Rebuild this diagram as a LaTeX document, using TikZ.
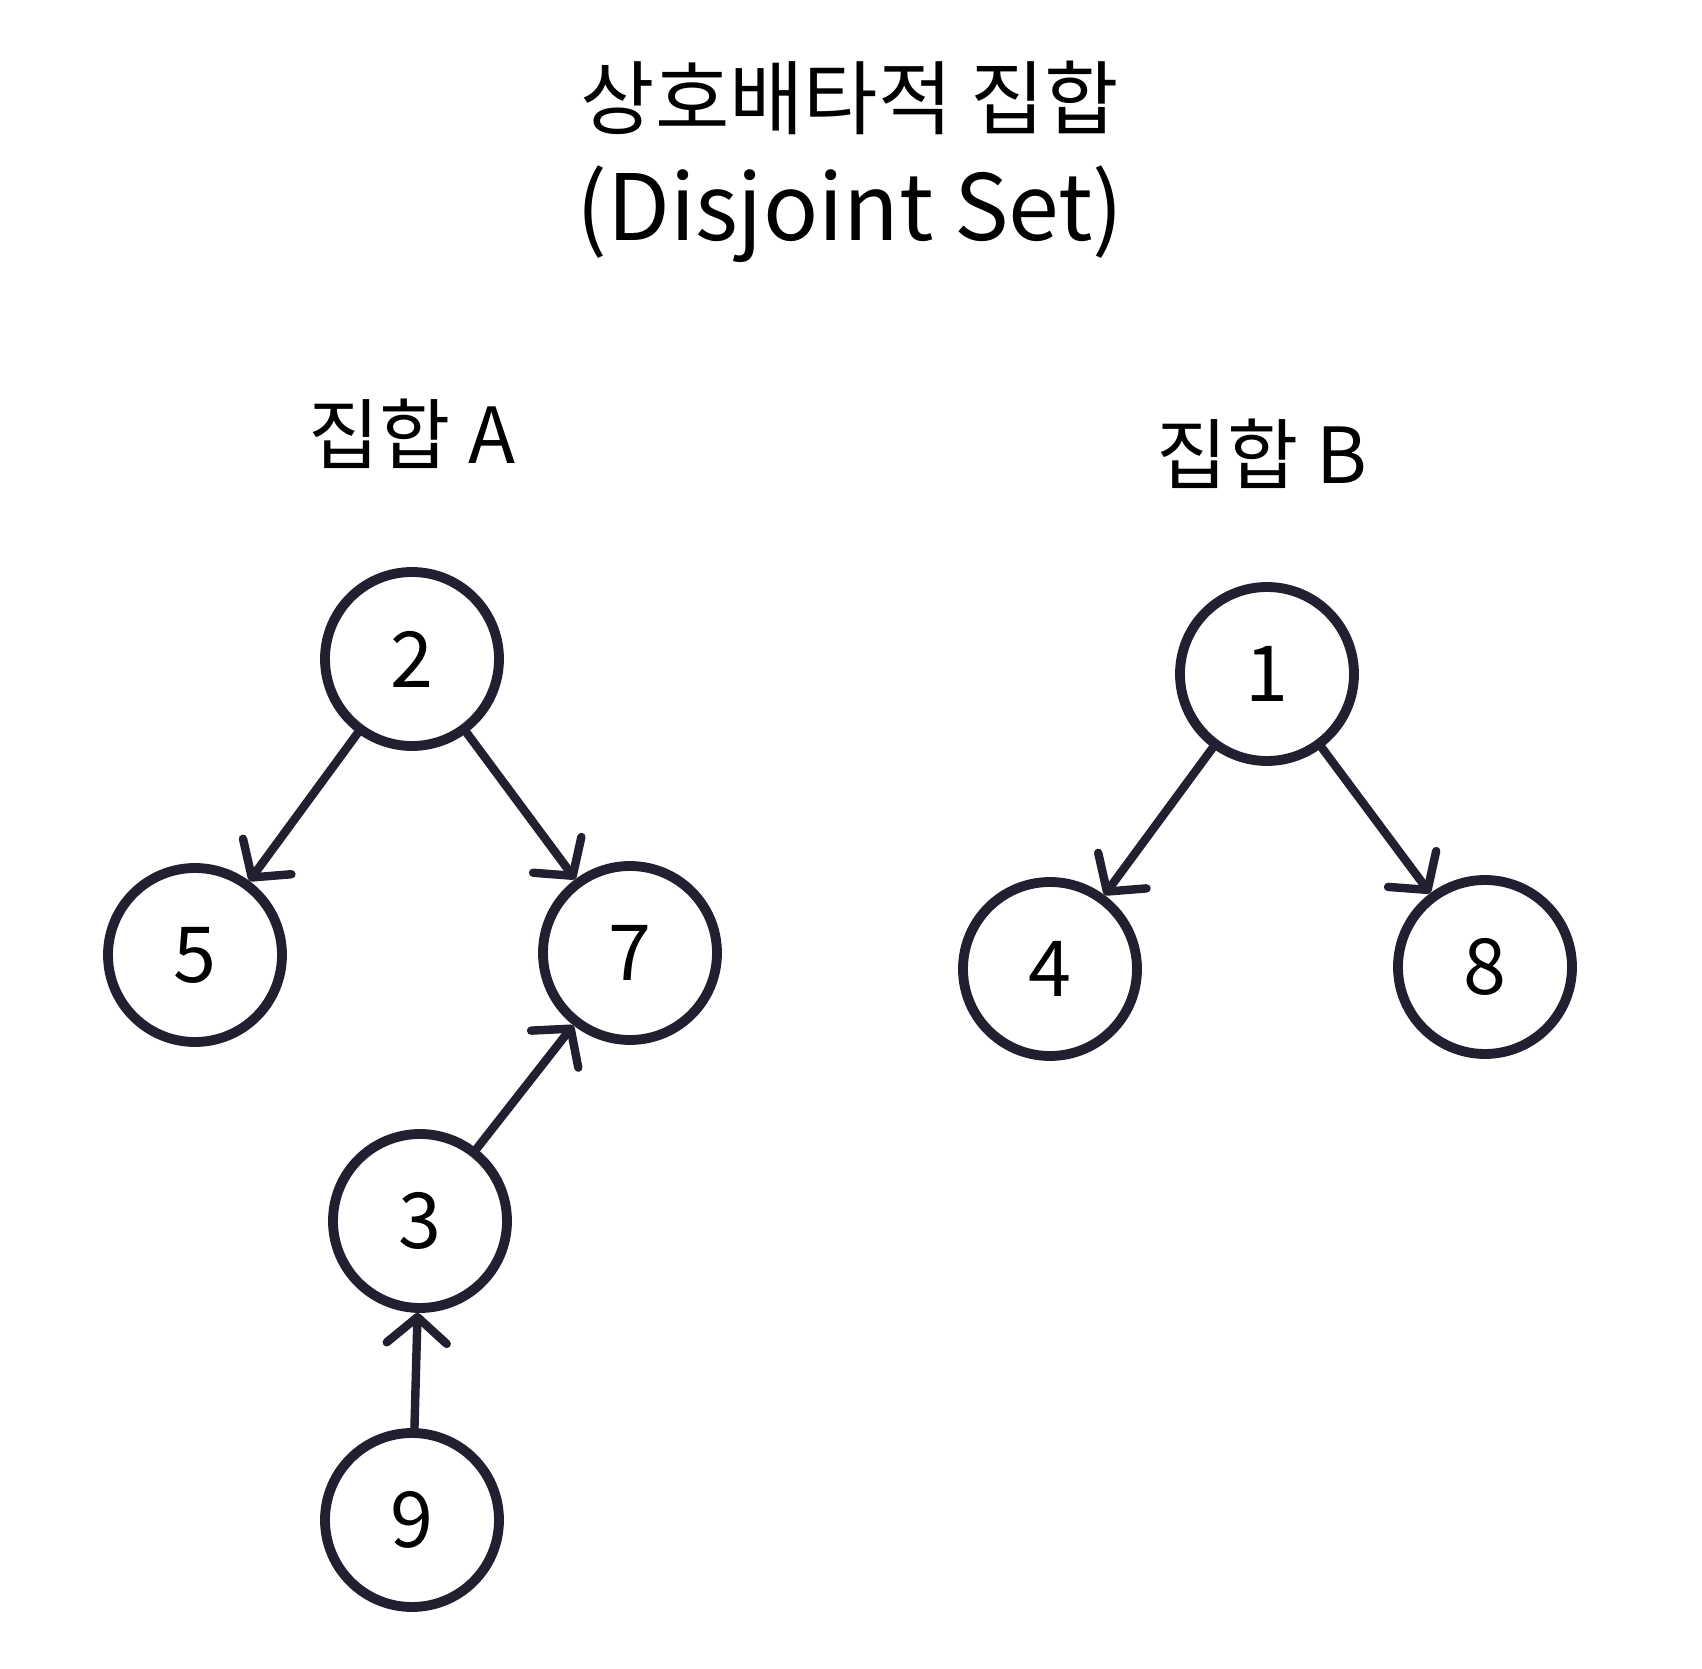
\documentclass[tikz,border=0pt]{standalone}
\usepackage{fontspec}
\setmainfont{Noto Sans CJK KR}
\usetikzlibrary{arrows.meta}
\definecolor{ink}{HTML}{221F30}

\begin{document}
\begin{tikzpicture}[
  title/.style={font=\fontsize{23}{28}\selectfont, align=center, text=black},
  setlabel/.style={font=\fontsize{22}{26}\selectfont, text=black},
  elem/.style={draw=ink, circle, line width=2.8pt, minimum size=1.74cm, inner sep=0pt, font=\fontsize{22}{26}\selectfont, text=black},
  link/.style={draw=ink, line width=2.4pt, line cap=round, -{Straight Barb[length=2.6mm, width=6mm, line width=2.4pt, round]}}
]

\useasboundingbox (0,0) rectangle (17.02,-16.69);

% --- Title ---
\node[title] (t1) at (8.50,-0.98) {상호배타적 집합};
\node[title, font=\fontsize{26}{30}\selectfont] (t2) at (8.50,-2.14) {(Disjoint Set)};

% --- Set labels ---
\node[setlabel] (la) at (4.12,-4.34) {집합 A};
\node[setlabel] (lb) at (12.62,-4.54) {집합 B};

% --- Set A ---
\node[elem] (n2) at (4.12,-6.59) {2};
\node[elem] (n5) at (1.95,-9.55) {5};
\node[elem] (n7) at (6.30,-9.53) {7};
\node[elem] (n3) at (4.20,-12.21) {3};
\node[elem] (n9) at (4.12,-15.20) {9};

% --- Set B ---
\node[elem] (n1) at (12.67,-6.74) {1};
\node[elem] (n4) at (10.50,-9.69) {4};
\node[elem] (n8) at (14.85,-9.67) {8};

% --- Links ---
\foreach \a/\b in {n2/n5, n2/n7, n3/n7, n9/n3, n1/n4, n1/n8} {
  \draw[link] (\a) -- (\b);
}

\end{tikzpicture}
\end{document}
